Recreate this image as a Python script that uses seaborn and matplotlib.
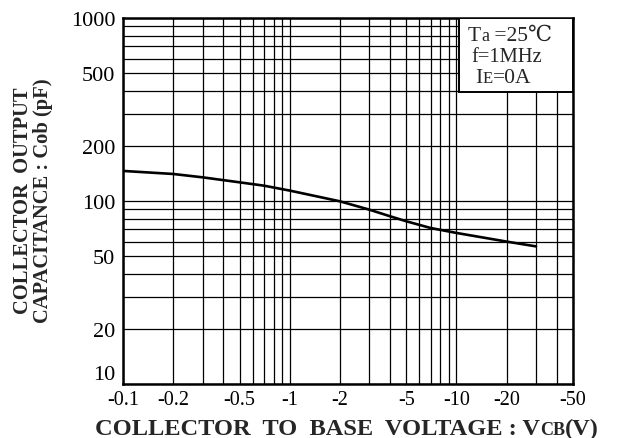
import numpy as np
import pandas as pd
import matplotlib
matplotlib.use("Agg")
import matplotlib.pyplot as plt
from matplotlib.ticker import LogLocator, FixedLocator, FixedFormatter, NullFormatter
from matplotlib.patches import Rectangle
from matplotlib.transforms import IdentityTransform
import seaborn as sns

# Cob vs VCB curve (magnitude of VCB in volts, capacitance in pF)
vcb = [0.1, 0.2, 0.3, 0.5, 0.7, 1, 2, 3, 4, 5, 7, 10, 20, 30]
cob = [146, 140.5, 134.7, 126.5, 121.3, 114, 99.6, 89.7, 82.5, 77.5, 71.2, 66.9, 60, 56.5]

x_ticks = [0.1, 0.2, 0.5, 1, 2, 5, 10, 20, 50]
x_tick_labels = ["-0.1", "-0.2", "-0.5", "-1", "-2", "-5", "-10", "-20", "-50"]
y_ticks = [10, 20, 50, 100, 200, 500, 1000]
y_tick_labels = ["10", "20", "50", "100", "200", "500", "1000"]

sns.set_style("white")
serif = ["Liberation Serif", "DejaVu Serif"]
plt.rcParams["font.family"] = serif

fig = plt.figure(figsize=(6.19, 4.39), dpi=100)
ax = fig.add_axes([123 / 619, 54 / 439, 450 / 619, 366 / 439])

df = pd.DataFrame({"vcb": vcb, "cob": cob})
sns.lineplot(data=df, x="vcb", y="cob", ax=ax, color="black", linewidth=1.9, zorder=3)

ax.set_xscale("log")
ax.set_yscale("log")
ax.set_xlim(0.1, 50)
ax.set_ylim(10, 1000)

ax.xaxis.set_major_locator(FixedLocator(x_ticks))
ax.xaxis.set_major_formatter(FixedFormatter(x_tick_labels))
ax.yaxis.set_major_locator(FixedLocator(y_ticks))
ax.yaxis.set_major_formatter(FixedFormatter(y_tick_labels))
sub = np.arange(2, 10)
ax.xaxis.set_minor_locator(LogLocator(base=10, subs=sub))
ax.yaxis.set_minor_locator(LogLocator(base=10, subs=sub))
ax.xaxis.set_minor_formatter(NullFormatter())
ax.yaxis.set_minor_formatter(NullFormatter())

ax.grid(True, which="both", color="black", linewidth=0.9, zorder=1)
ax.set_axisbelow(True)

ax.tick_params(axis="both", which="both", length=0, colors="black")
ax.tick_params(axis="x", pad=4.5, labelsize=14.5)
ax.tick_params(axis="y", pad=5.5, labelsize=16)
for spine in ax.spines.values():
    spine.set_visible(True)
    spine.set_color("black")
    spine.set_linewidth(1.8)
ax.set_xlabel("")
ax.set_ylabel("")

fig.canvas.draw()
ylabels = ax.get_yticklabels()
ylabels[0].set_va("bottom")

# Condition box in the upper-right corner
box = Rectangle((0.747, 0.798), 0.253, 0.202, transform=ax.transAxes,
                facecolor="white", edgecolor="black", linewidth=1.4, zorder=4)
ax.add_patch(box)

renderer = fig.canvas.get_renderer()
H = 439


def rich_text(x, y, parts, ha="left", weight="normal"):
    """Draw runs of text of different sizes along a common baseline (pixel coords, top origin)."""
    texts = []
    widths = []
    for s, size in parts:
        t = fig.text(0, 0, s, fontsize=size, fontweight=weight, family=serif,
                     transform=IdentityTransform(), ha="left", va="baseline", zorder=6)
        widths.append(t.get_window_extent(renderer).width)
        texts.append(t)
    total = sum(widths)
    x0 = x - total / 2 if ha == "center" else x
    for t, w in zip(texts, widths):
        t.set_position((x0, H - y))
        x0 += w
    return texts


rich_text(468, 41, [("T", 15.5), ("a", 13), (" =25", 15.5), ("\u2103", 15.5)])
rich_text(471, 62, [("f=1MHz", 14.8)])
rich_text(475, 83, [("I", 15.5), ("E", 12), ("=0A", 15.5)])

# Axis titles
fig.text(33, H - 201, "COLLECTOR  OUTPUT\nCAPACITANCE : Cob (pF)", rotation=90,
         fontsize=14.8, fontweight="bold", family=serif, ha="center", va="center",
         multialignment="center", linespacing=0.95, transform=IdentityTransform())
rich_text(347, 435, [("COLLECTOR  TO  BASE  VOLTAGE : V", 17.6), ("CB", 13), ("(V)", 17.6)],
          ha="center", weight="bold")

fig.savefig("out.png", dpi=100)
